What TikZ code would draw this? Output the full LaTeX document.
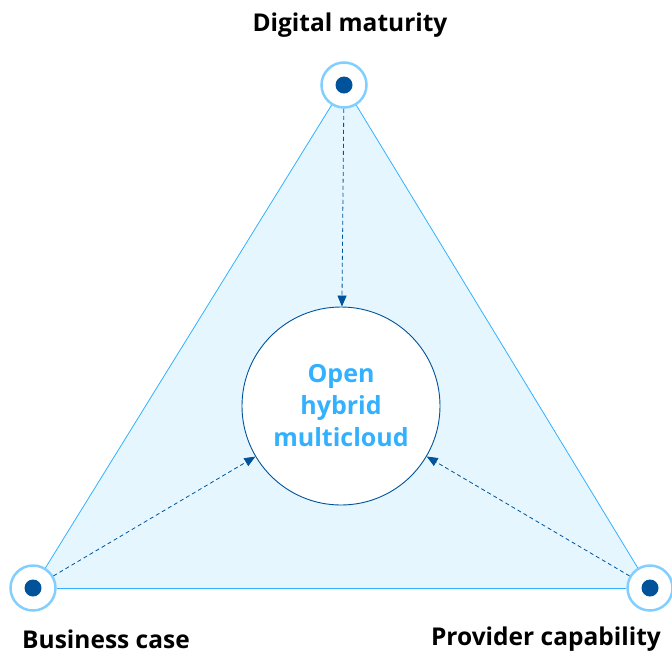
\documentclass[tikz,border=0pt]{standalone}
\usepackage{fontspec}
\setmainfont{Open Sans}
\usetikzlibrary{arrows.meta}
\definecolor{ringblue}{HTML}{82CFFF}
\definecolor{edgeblue}{HTML}{33B1FF}
\definecolor{darkblue}{HTML}{00539A}
\definecolor{paleblue}{HTML}{E5F6FF}
\definecolor{textblue}{HTML}{33B1FF}
\begin{document}
\begin{tikzpicture}[x=1pt,y=-1pt,
     corner/.style={draw=ringblue,line width=2.5pt,fill=white,circle,minimum size=45pt,inner sep=0pt},
     dot/.style={fill=darkblue,circle,minimum size=17pt,inner sep=0pt},
     lbl/.style={font=\fontsize{24.5}{26}\selectfont\bfseries,text=black},
     flow/.style={draw=darkblue,dashed,line width=0.8pt,dash pattern=on 4pt off 3pt,-{Triangle[length=11pt,width=9pt]}}
     ]
\useasboundingbox (0,0) rectangle (672,657);
%Corner positions of the triangle
\def \topx{344}
\def \topy{85}
\def \botx{33}
\def \boty{588}
\def \rgtx{650}

%Shaded triangle behind everything
\fill[paleblue] (\topx,\topy) -- (\botx,\boty) -- (\rgtx,\boty) -- cycle;

%Corner rings with dots
\node[corner] (dm) at (\topx,\topy) {};
\node[corner] (bc) at (\botx,\boty) {};
\node[corner] (pc) at (\rgtx,\boty) {};
\foreach \c in {dm,bc,pc}
   \node[dot] (\c dot) at (\c) {};

%Triangle sides
\draw[edgeblue,line width=0.8pt] (dm) -- (bc);
\draw[edgeblue,line width=0.8pt] (bc) -- (pc);
\draw[edgeblue,line width=0.8pt] (pc) -- (dm);

%Centre circle
\node[draw=darkblue,line width=0.9pt,fill=white,circle,minimum size=198pt,inner sep=0pt,
      align=center,text=textblue,font=\fontsize{25}{32}\selectfont\bfseries] (ohm) at (341,406)
      {Open\\hybrid\\multicloud};

%Dashed arrows into the centre
\draw[flow] (dm) -- (ohm);
\draw[flow] (bc) -- (ohm);
\draw[flow] (pc) -- (ohm);

%Labels
\node[lbl] (dmlbl) at (350,25) {Digital maturity};
\node[lbl] (bclbl) at (106,639) {Business case};
\node[lbl] (pclbl) at (546,639) {Provider capability};
\end{tikzpicture}
\end{document}
